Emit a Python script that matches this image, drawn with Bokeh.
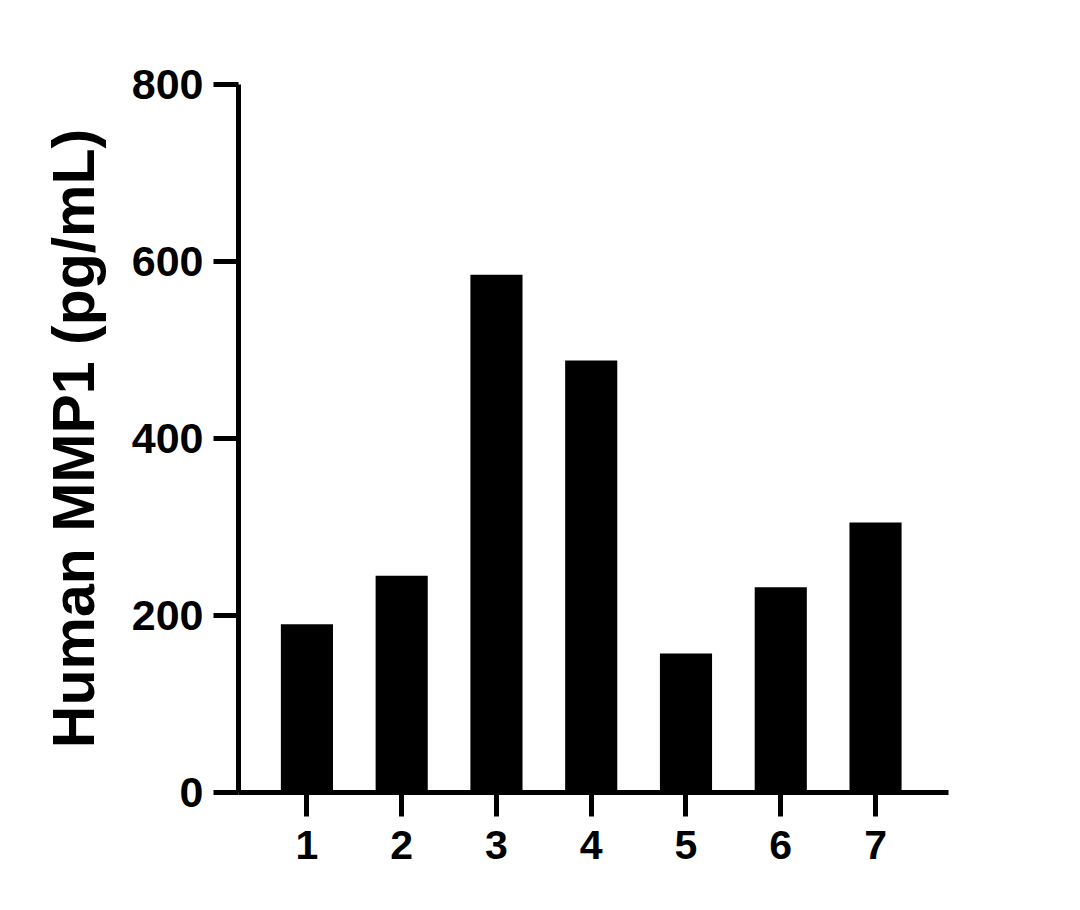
from bokeh.plotting import figure
from bokeh.models import Range1d, FixedTicker, ColumnDataSource
from bokeh.embed import file_html
from bokeh.resources import INLINE

# Data
samples = [1, 2, 3, 4, 5, 6, 7]
values = [190, 245, 585, 488, 157, 232, 305]
y_ticks = [0, 200, 400, 600, 800]
y_label = "Human MMP1 (pg/mL)"

FONT = "Liberation Sans"

src = ColumnDataSource(data=dict(x=samples, top=values))

p = figure(
    output_backend="svg",
    toolbar_location=None,
    frame_width=710,
    frame_height=708,
    min_border_left=238,
    min_border_top=84,
    min_border_right=106,
    min_border_bottom=90,
    x_range=Range1d(0.278, 7.77),
    y_range=Range1d(0, 800),
)

p.vbar(x="x", top="top", bottom=0, width=0.55, source=src,
       fill_color="black", line_color=None)

p.xgrid.visible = False
p.ygrid.visible = False
p.outline_line_color = None
p.background_fill_color = "white"
p.border_fill_color = "white"

for ax in (p.xaxis[0], p.yaxis[0]):
    ax.axis_line_width = 5
    ax.axis_line_color = "black"
    ax.major_tick_line_width = 5
    ax.major_tick_line_color = "black"
    ax.major_tick_in = 0
    ax.minor_tick_line_color = None
    ax.major_label_text_font = FONT
    ax.major_label_text_font_style = "bold"
    ax.major_label_text_color = "black"

p.xaxis.ticker = FixedTicker(ticks=samples)
p.xaxis.major_tick_out = 24
p.xaxis.major_label_standoff = 14
p.xaxis.major_label_text_font_size = "41px"

p.yaxis.ticker = FixedTicker(ticks=y_ticks)
p.yaxis.major_tick_out = 25
p.yaxis.major_label_standoff = 10
p.yaxis.major_label_text_font_size = "43px"
p.yaxis.axis_label = y_label
p.yaxis.axis_label_text_font = FONT
p.yaxis.axis_label_text_font_style = "bold"
p.yaxis.axis_label_text_font_size = "59px"
p.yaxis.axis_label_text_color = "black"
p.yaxis.axis_label_standoff = 22

open("out.html", "w").write(file_html(p, INLINE))
